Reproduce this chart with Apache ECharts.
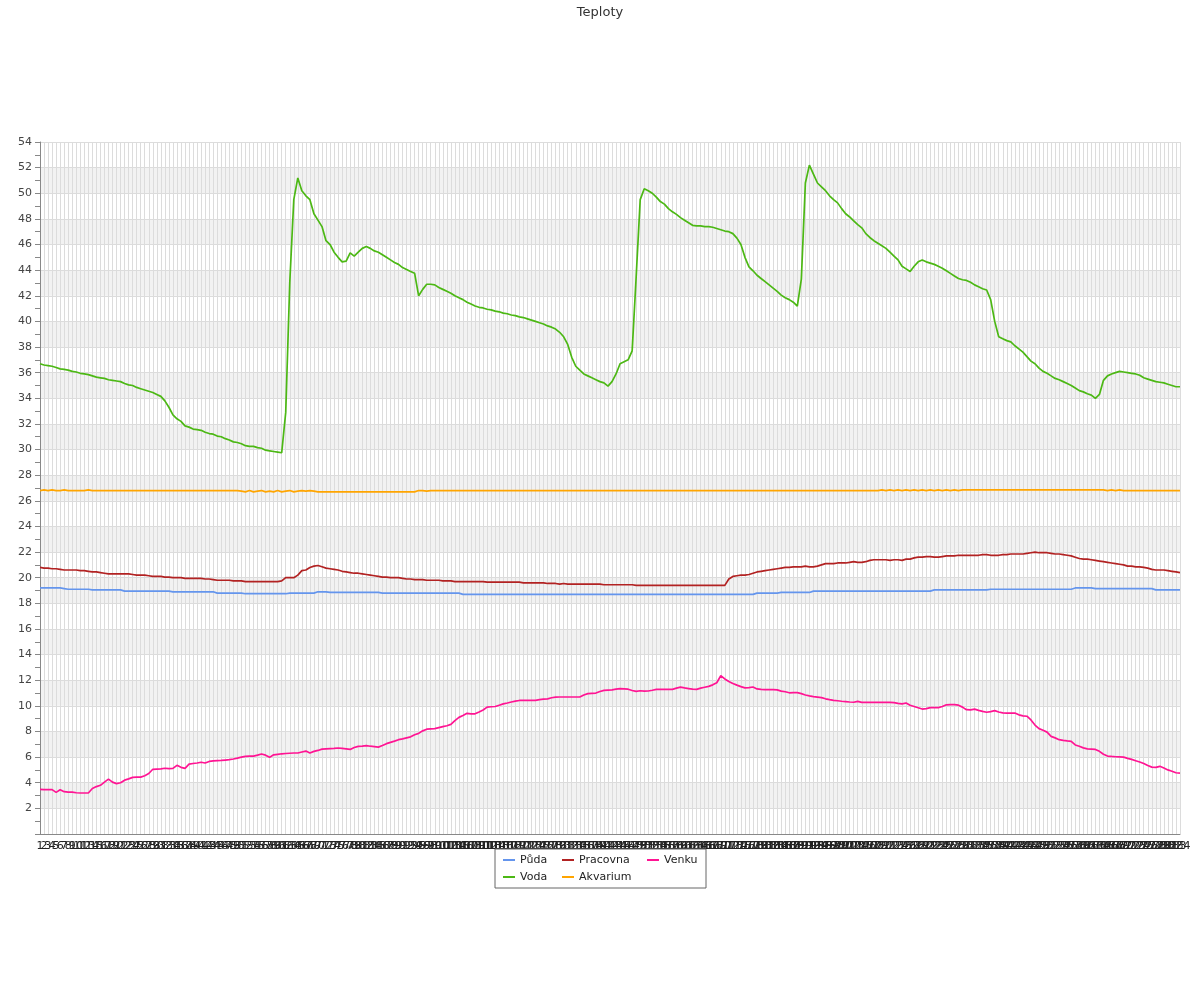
<!DOCTYPE html>
<html>
<head>
<meta charset="utf-8">
<script src="https://cdn.jsdelivr.net/npm/echarts@6/dist/echarts.min.js"></script>
<style>html,body{margin:0;padding:0;background:#fff;}#c{width:1200px;height:1000px;}</style>
</head>
<body>
<div id="c"></div>
<script>
const seriesNames = ['Půda', 'Voda', 'Pracovna', 'Akvarium', 'Venku'];
const yTicks = {min: 0, max: 54, step: 2};

const puda = [
19.2,19.2,19.2,19.2,19.2,19.2,19.15,19.1,19.1,19.1,
19.1,19.1,19.1,19.05,19.05,19.05,19.05,19.05,19.05,19.05,
19.05,18.95,18.95,18.95,18.95,18.95,18.95,18.95,18.95,18.95,
18.95,18.95,18.95,18.9,18.9,18.9,18.9,18.9,18.9,18.9,
18.9,18.9,18.9,18.9,18.8,18.8,18.8,18.8,18.8,18.8,
18.8,18.75,18.75,18.75,18.75,18.75,18.75,18.75,18.75,18.75,
18.75,18.75,18.8,18.8,18.8,18.8,18.8,18.8,18.8,18.9,
18.9,18.9,18.85,18.85,18.85,18.85,18.85,18.85,18.85,18.85,
18.85,18.85,18.85,18.85,18.85,18.8,18.8,18.8,18.8,18.8,
18.8,18.8,18.8,18.8,18.8,18.8,18.8,18.8,18.8,18.8,
18.8,18.8,18.8,18.8,18.8,18.7,18.7,18.7,18.7,18.7,
18.7,18.7,18.7,18.7,18.7,18.7,18.7,18.7,18.7,18.7,
18.7,18.7,18.7,18.7,18.7,18.7,18.7,18.7,18.7,18.7,
18.7,18.7,18.7,18.7,18.7,18.7,18.7,18.7,18.7,18.7,
18.7,18.7,18.7,18.7,18.7,18.7,18.7,18.7,18.7,18.7,
18.7,18.7,18.7,18.7,18.7,18.7,18.7,18.7,18.7,18.7,
18.7,18.7,18.7,18.7,18.7,18.7,18.7,18.7,18.7,18.7,
18.7,18.7,18.7,18.7,18.7,18.7,18.7,18.7,18.8,18.8,
18.8,18.8,18.8,18.8,18.85,18.85,18.85,18.85,18.85,18.85,
18.85,18.85,18.95,18.95,18.95,18.95,18.95,18.95,18.95,18.95,
18.95,18.95,18.95,18.95,18.95,18.95,18.95,18.95,18.95,18.95,
18.95,18.95,18.95,18.95,18.95,18.95,18.95,18.95,18.95,18.95,
18.95,18.95,19.05,19.05,19.05,19.05,19.05,19.05,19.05,19.05,
19.05,19.05,19.05,19.05,19.05,19.05,19.1,19.1,19.1,19.1,
19.1,19.1,19.1,19.1,19.1,19.1,19.1,19.1,19.1,19.1,
19.1,19.1,19.1,19.1,19.1,19.1,19.1,19.2,19.2,19.2,
19.2,19.2,19.15,19.15,19.15,19.15,19.15,19.15,19.15,19.15,
19.15,19.15,19.15,19.15,19.15,19.15,19.15,19.05,19.05,19.05,
19.05,19.05,19.05,19.05
];

const voda = [
36.7,36.6,36.55,36.5,36.4,36.3,36.25,36.2,36.1,36.05,
35.95,35.9,35.85,35.75,35.65,35.6,35.55,35.45,35.4,35.35,
35.3,35.15,35.05,35.0,34.85,34.75,34.65,34.55,34.45,34.3,
34.15,33.8,33.3,32.7,32.4,32.2,31.85,31.75,31.6,31.55,
31.5,31.35,31.25,31.2,31.05,31.0,30.85,30.75,30.6,30.55,
30.45,30.3,30.25,30.25,30.15,30.1,29.95,29.9,29.85,29.8,
29.75,32.9,43.0,49.5,51.2,50.2,49.8,49.5,48.4,47.9,
47.4,46.3,46.0,45.4,45.0,44.65,44.7,45.35,45.1,45.4,
45.7,45.85,45.7,45.5,45.4,45.2,45.0,44.8,44.6,44.45,
44.2,44.05,43.9,43.75,42.0,42.5,42.9,42.9,42.85,42.65,
42.5,42.35,42.2,42.0,41.85,41.7,41.5,41.35,41.2,41.1,
41.05,40.95,40.9,40.8,40.75,40.65,40.6,40.5,40.45,40.35,
40.3,40.2,40.1,40.0,39.9,39.8,39.65,39.55,39.4,39.15,
38.8,38.2,37.2,36.5,36.2,35.9,35.75,35.6,35.45,35.3,
35.2,34.95,35.3,35.9,36.7,36.85,37.0,37.7,43.5,49.5,
50.35,50.2,50.0,49.7,49.35,49.15,48.8,48.55,48.35,48.1,
47.9,47.7,47.5,47.45,47.45,47.4,47.4,47.35,47.25,47.15,
47.05,47.0,46.85,46.5,46.0,45.0,44.25,43.95,43.6,43.35,
43.1,42.85,42.6,42.35,42.05,41.85,41.7,41.5,41.2,43.3,
50.8,52.2,51.5,50.8,50.5,50.2,49.8,49.5,49.25,48.8,
48.4,48.15,47.85,47.55,47.3,46.85,46.55,46.3,46.1,45.9,
45.7,45.4,45.1,44.8,44.3,44.1,43.9,44.3,44.65,44.8,
44.65,44.55,44.45,44.3,44.15,43.95,43.75,43.55,43.35,43.25,
43.2,43.05,42.85,42.7,42.55,42.45,41.7,40.0,38.8,38.65,
38.5,38.4,38.1,37.85,37.6,37.25,36.9,36.7,36.35,36.1,
35.95,35.75,35.55,35.45,35.3,35.15,35.0,34.8,34.6,34.5,
34.35,34.25,34.0,34.3,35.4,35.75,35.9,36.0,36.1,36.05,
36.0,35.95,35.9,35.8,35.6,35.5,35.4,35.3,35.25,35.2,
35.1,35.0,34.9,34.9
];

const pracovna = [
20.8,20.75,20.75,20.7,20.7,20.65,20.6,20.6,20.6,20.6,
20.55,20.55,20.5,20.45,20.45,20.4,20.35,20.3,20.3,20.3,
20.3,20.3,20.3,20.25,20.2,20.2,20.2,20.15,20.1,20.1,
20.1,20.05,20.05,20.0,20.0,20.0,19.95,19.95,19.95,19.95,
19.95,19.9,19.9,19.85,19.8,19.8,19.8,19.8,19.75,19.75,
19.75,19.7,19.7,19.7,19.7,19.7,19.7,19.7,19.7,19.7,
19.75,20.0,20.0,20.0,20.2,20.55,20.6,20.8,20.9,20.95,
20.85,20.75,20.7,20.65,20.6,20.5,20.45,20.4,20.35,20.35,
20.3,20.25,20.2,20.15,20.1,20.05,20.05,20.0,20.0,20.0,
19.95,19.9,19.9,19.85,19.85,19.85,19.8,19.8,19.8,19.8,
19.75,19.75,19.75,19.7,19.7,19.7,19.7,19.7,19.7,19.7,
19.7,19.65,19.65,19.65,19.65,19.65,19.65,19.65,19.65,19.65,
19.6,19.6,19.6,19.6,19.6,19.6,19.55,19.55,19.55,19.5,
19.55,19.5,19.5,19.5,19.5,19.5,19.5,19.5,19.5,19.5,
19.45,19.45,19.45,19.45,19.45,19.45,19.45,19.45,19.4,19.4,
19.4,19.4,19.4,19.4,19.4,19.4,19.4,19.4,19.4,19.4,
19.4,19.4,19.4,19.4,19.4,19.4,19.4,19.4,19.4,19.4,
19.4,19.9,20.1,20.15,20.2,20.2,20.25,20.35,20.45,20.5,
20.55,20.6,20.65,20.7,20.75,20.8,20.8,20.85,20.85,20.85,
20.9,20.85,20.85,20.9,21.0,21.1,21.1,21.1,21.15,21.15,
21.15,21.2,21.25,21.2,21.2,21.25,21.35,21.4,21.4,21.4,
21.4,21.35,21.4,21.4,21.35,21.45,21.45,21.55,21.6,21.6,
21.65,21.65,21.6,21.6,21.65,21.7,21.7,21.7,21.75,21.75,
21.75,21.75,21.75,21.75,21.8,21.8,21.75,21.75,21.75,21.8,
21.8,21.85,21.85,21.85,21.85,21.9,21.95,22.0,21.95,21.95,
21.95,21.9,21.85,21.85,21.8,21.75,21.7,21.6,21.5,21.45,
21.45,21.4,21.35,21.3,21.25,21.2,21.15,21.1,21.05,21.0,
20.9,20.9,20.85,20.85,20.8,20.75,20.65,20.6,20.6,20.6,
20.55,20.5,20.45,20.4
];

const akvarium = [
26.8,26.85,26.8,26.85,26.8,26.8,26.85,26.8,26.8,26.8,
26.8,26.8,26.85,26.8,26.8,26.8,26.8,26.8,26.8,26.8,
26.8,26.8,26.8,26.8,26.8,26.8,26.8,26.8,26.8,26.8,
26.8,26.8,26.8,26.8,26.8,26.8,26.8,26.8,26.8,26.8,
26.8,26.8,26.8,26.8,26.8,26.8,26.8,26.8,26.8,26.8,
26.75,26.7,26.8,26.7,26.75,26.8,26.7,26.75,26.7,26.8,
26.7,26.75,26.8,26.7,26.75,26.8,26.75,26.8,26.75,26.7,
26.7,26.7,26.7,26.7,26.7,26.7,26.7,26.7,26.7,26.7,
26.7,26.7,26.7,26.7,26.7,26.7,26.7,26.7,26.7,26.7,
26.7,26.7,26.7,26.7,26.8,26.8,26.75,26.8,26.8,26.8,
26.8,26.8,26.8,26.8,26.8,26.8,26.8,26.8,26.8,26.8,
26.8,26.8,26.8,26.8,26.8,26.8,26.8,26.8,26.8,26.8,
26.8,26.8,26.8,26.8,26.8,26.8,26.8,26.8,26.8,26.8,
26.8,26.8,26.8,26.8,26.8,26.8,26.8,26.8,26.8,26.8,
26.8,26.8,26.8,26.8,26.8,26.8,26.8,26.8,26.8,26.8,
26.8,26.8,26.8,26.8,26.8,26.8,26.8,26.8,26.8,26.8,
26.8,26.8,26.8,26.8,26.8,26.8,26.8,26.8,26.8,26.8,
26.8,26.8,26.8,26.8,26.8,26.8,26.8,26.8,26.8,26.8,
26.8,26.8,26.8,26.8,26.8,26.8,26.8,26.8,26.8,26.8,
26.8,26.8,26.8,26.8,26.8,26.8,26.8,26.8,26.8,26.8,
26.8,26.8,26.8,26.8,26.8,26.8,26.8,26.8,26.8,26.85,
26.8,26.85,26.8,26.85,26.8,26.85,26.8,26.85,26.8,26.85,
26.8,26.85,26.8,26.85,26.8,26.85,26.8,26.85,26.8,26.85,
26.85,26.85,26.85,26.85,26.85,26.85,26.85,26.85,26.85,26.85,
26.85,26.85,26.85,26.85,26.85,26.85,26.85,26.85,26.85,26.85,
26.85,26.85,26.85,26.85,26.85,26.85,26.85,26.85,26.85,26.85,
26.85,26.85,26.85,26.85,26.85,26.8,26.85,26.8,26.85,26.8,
26.8,26.8,26.8,26.8,26.8,26.8,26.8,26.8,26.8,26.8,
26.8,26.8,26.8,26.8
];

const venku = [
3.48,3.47,3.46,3.46,3.25,3.45,3.3,3.27,3.27,3.22,
3.2,3.2,3.2,3.55,3.7,3.8,4.05,4.28,4.05,3.93,
4.0,4.2,4.3,4.42,4.44,4.44,4.55,4.72,5.05,5.07,
5.08,5.13,5.1,5.12,5.36,5.2,5.12,5.45,5.5,5.54,
5.6,5.54,5.66,5.7,5.72,5.74,5.77,5.8,5.85,5.92,
6.0,6.06,6.08,6.08,6.15,6.24,6.15,5.98,6.18,6.22,
6.26,6.28,6.3,6.32,6.32,6.4,6.47,6.32,6.45,6.52,
6.62,6.64,6.66,6.68,6.71,6.68,6.64,6.6,6.75,6.84,
6.86,6.89,6.85,6.82,6.78,6.9,7.05,7.15,7.25,7.36,
7.42,7.5,7.58,7.75,7.85,8.05,8.18,8.2,8.22,8.3,
8.38,8.45,8.55,8.85,9.1,9.25,9.42,9.38,9.38,9.52,
9.68,9.9,9.93,9.95,10.05,10.15,10.22,10.3,10.37,10.42,
10.43,10.43,10.43,10.43,10.48,10.52,10.55,10.63,10.68,10.69,
10.69,10.69,10.69,10.69,10.69,10.85,10.95,10.98,11.0,11.12,
11.21,11.23,11.25,11.3,11.34,11.32,11.3,11.2,11.13,11.18,
11.15,11.16,11.22,11.29,11.29,11.29,11.29,11.29,11.38,11.46,
11.4,11.35,11.3,11.29,11.38,11.45,11.52,11.64,11.8,12.35,
12.1,11.9,11.75,11.62,11.5,11.4,11.42,11.47,11.32,11.28,
11.27,11.27,11.26,11.25,11.15,11.1,11.02,11.03,11.03,10.95,
10.85,10.78,10.72,10.68,10.64,10.55,10.48,10.43,10.4,10.36,
10.33,10.3,10.28,10.35,10.27,10.27,10.27,10.27,10.27,10.27,
10.27,10.27,10.25,10.2,10.16,10.22,10.05,9.95,9.85,9.75,
9.78,9.86,9.86,9.86,9.95,10.08,10.09,10.09,10.05,9.9,
9.7,9.68,9.74,9.65,9.57,9.5,9.55,9.63,9.52,9.45,
9.44,9.44,9.44,9.3,9.22,9.19,8.9,8.5,8.22,8.1,
7.95,7.62,7.5,7.36,7.3,7.26,7.23,6.95,6.85,6.72,
6.64,6.62,6.6,6.45,6.22,6.08,6.05,6.03,6.02,6.0,
5.9,5.82,5.72,5.62,5.5,5.35,5.22,5.2,5.28,5.15,
5.0,4.9,4.78,4.75
];

// category labels 1..N (one per measurement)
const categories = [];
for (let i = 1; i <= voda.length; i++) categories.push(String(i));

const colors = {
  'Půda': '#6495ed',
  'Voda': '#4cb814',
  'Pracovna': '#b22222',
  'Akvarium': '#ffa500',
  'Venku': '#ff1493'
};
const dataByName = {'Půda': puda, 'Voda': voda, 'Pracovna': pracovna, 'Akvarium': akvarium, 'Venku': venku};

const FONT = 'DejaVu Sans';
const chart = echarts.init(document.getElementById('c'), null, {renderer: 'canvas'});
chart.setOption({
  animation: false,
  backgroundColor: '#fff',
  title: {
    text: 'Teploty', left: 'center', top: 1,
    textStyle: {fontSize: 13, fontWeight: 'normal', color: '#333', fontFamily: FONT}
  },
  legend: {
    left: 495, top: 849, width: 200,
    orient: 'horizontal',
    icon: 'rect', itemWidth: 12, itemHeight: 2, itemGap: 3,
    borderColor: '#666', borderWidth: 1, padding: [4, 6, 4, 8],
    textStyle: {fontSize: 11, color: '#222', fontFamily: FONT, lineHeight: 14},
    data: [
      {name: 'Půda', textStyle: {width: 39}},
      {name: 'Pracovna', textStyle: {width: 65}},
      {name: 'Venku', textStyle: {width: 36}},
      {name: 'Voda', textStyle: {width: 39}},
      {name: 'Akvarium', textStyle: {width: 65}}
    ]
  },
  grid: {left: 40, right: 20, top: 142, bottom: 166, containLabel: false},
  xAxis: {
    type: 'category', boundaryGap: false, data: categories,
    axisLine: {lineStyle: {color: '#888'}},
    axisTick: {show: false},
    axisLabel: {interval: 0, fontSize: 11, color: '#222', fontFamily: FONT, margin: 7, hideOverlap: false},
    splitLine: {show: true, interval: 0, lineStyle: {color: '#dcdcdc', width: 1}}
  },
  yAxis: {
    type: 'value', min: yTicks.min, max: yTicks.max, interval: yTicks.step,
    axisLine: {show: true, lineStyle: {color: '#888'}},
    axisTick: {show: true, length: 5, lineStyle: {color: '#888'}},
    minorTick: {show: true, splitNumber: 2, length: 5, lineStyle: {color: '#888'}},
    axisLabel: {showMinLabel: false, fontSize: 11, color: '#444', fontFamily: FONT, margin: 8},
    splitLine: {show: true, lineStyle: {color: '#dcdcdc', width: 1}},
    splitArea: {show: true, areaStyle: {color: ['rgba(255,255,255,0)', 'rgba(232,232,232,0.55)']}}
  },
  series: seriesNames.map(n => ({
    name: n, type: 'line', data: dataByName[n],
    showSymbol: false, symbol: 'none',
    lineStyle: {width: 1.7, color: colors[n]},
    itemStyle: {color: colors[n]}
  }))
});
</script>
</body>
</html>
